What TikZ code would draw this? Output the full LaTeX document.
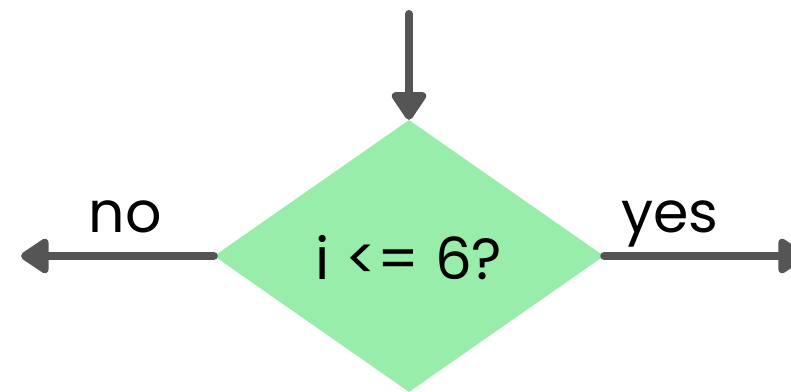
\documentclass[tikz,border=0pt]{standalone}
\usepackage{fontspec}
\setmainfont{Poppins}
\usepackage{tikz}
\usetikzlibrary{arrows.meta,shapes.geometric,positioning}

\definecolor{flowgreen}{RGB}{152,237,170}
\definecolor{flowgray}{RGB}{85,85,85}

\begin{document}
\begin{tikzpicture}[x=1pt,y=1pt]
\tikzstyle{decision}=[diamond,fill=flowgreen,draw=none,minimum width=390pt,minimum height=272pt,inner sep=0pt,text height=48pt,font=\fontsize{58}{70}\selectfont]
\tikzstyle{answer}=[anchor=base,font=\fontsize{57}{68}\selectfont]
\tikzstyle{flow}=[draw=flowgray,line width=8pt,line cap=round,-{Triangle[length=31pt,width=39pt,round]}]

\useasboundingbox (0,0) rectangle (791,391);

\node[decision]      (test)   at (409,135) {i <= 6?};	%loop test
\coordinate          (entry)  at (409,377);
\coordinate          (no)     at (21,135);
\coordinate          (yes)    at (806,135);

\node[answer]        (nolab)  at (125,159) {no};
\node[answer]        (yeslab) at (670,159) {yes};

\draw[flow] (entry) -- (test);
\draw[flow] (test) -- (no);
\draw[flow] (test) -- (yes);

\end{tikzpicture}
\end{document}
